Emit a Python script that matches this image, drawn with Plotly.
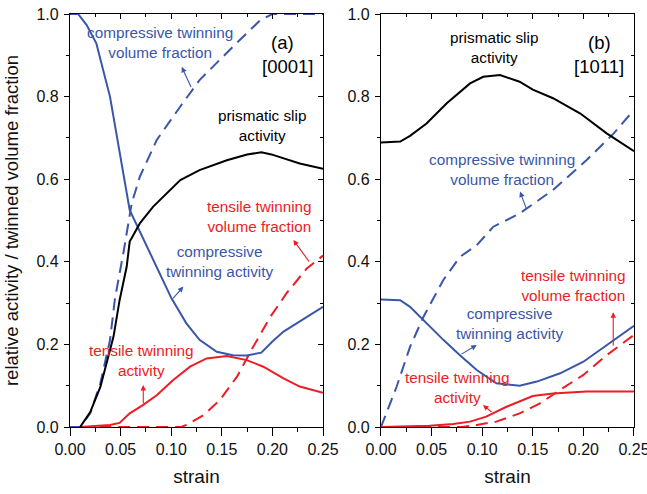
import plotly.graph_objects as go

# ---------------- data ----------------
# panel (a) [0001]
a_prism_x = [0.01, 0.02, 0.03, 0.036, 0.043, 0.049, 0.056, 0.059, 0.069, 0.082, 0.099, 0.109, 0.128, 0.155, 0.175, 0.189, 0.199, 0.211, 0.227, 0.25]
a_prism_y = [0.0, 0.036, 0.097, 0.155, 0.219, 0.307, 0.388, 0.449, 0.493, 0.533, 0.574, 0.598, 0.622, 0.646, 0.66, 0.665, 0.66, 0.65, 0.638, 0.625]

a_ctw_x = [0.0, 0.008, 0.0165, 0.026, 0.0395, 0.049, 0.059, 0.1004, 0.115, 0.128, 0.145, 0.161, 0.1746, 0.189, 0.2, 0.211, 0.227, 0.25]
a_ctw_y = [1.0, 1.0, 0.973, 0.929, 0.80, 0.671, 0.525, 0.311, 0.251, 0.211, 0.182, 0.174, 0.173, 0.18, 0.207, 0.231, 0.255, 0.291]

a_cvf_x = [0.0, 0.01, 0.02, 0.03, 0.0395, 0.0445, 0.053, 0.061, 0.069, 0.0857, 0.109, 0.128, 0.161, 0.188, 0.2, 0.25]
a_cvf_y = [0.0, 0.0, 0.033, 0.106, 0.21, 0.312, 0.425, 0.542, 0.606, 0.695, 0.776, 0.84, 0.921, 0.985, 1.0, 1.0]

a_ttw_x = [0.01, 0.0395, 0.049, 0.059, 0.072, 0.0857, 0.102, 0.1186, 0.135, 0.155, 0.1746, 0.191, 0.211, 0.227, 0.25]
a_ttw_y = [0.0, 0.005, 0.01, 0.033, 0.053, 0.077, 0.114, 0.146, 0.166, 0.172, 0.162, 0.146, 0.118, 0.098, 0.083]

a_tvf_x = [0.01, 0.11, 0.115, 0.132, 0.148, 0.165, 0.181, 0.198, 0.214, 0.234, 0.25]
a_tvf_y = [0.0, 0.0, 0.005, 0.029, 0.065, 0.122, 0.194, 0.267, 0.324, 0.384, 0.415]

# panel (b) [1011]
b_prism_x = [0.0, 0.019, 0.0287, 0.045, 0.065, 0.088, 0.101, 0.1176, 0.137, 0.15, 0.17, 0.197, 0.223, 0.25]
b_prism_y = [0.689, 0.691, 0.705, 0.735, 0.784, 0.832, 0.848, 0.852, 0.836, 0.817, 0.796, 0.759, 0.711, 0.668]

b_cvf_x = [0.0, 0.0155, 0.0287, 0.042, 0.0616, 0.078, 0.0946, 0.111, 0.137, 0.17, 0.203, 0.23, 0.25]
b_cvf_y = [0.0, 0.098, 0.194, 0.267, 0.356, 0.412, 0.44, 0.485, 0.517, 0.574, 0.646, 0.711, 0.768]

b_ctw_x = [0.0, 0.019, 0.0287, 0.045, 0.0616, 0.078, 0.0946, 0.114, 0.137, 0.154, 0.177, 0.2, 0.223, 0.25]
b_ctw_y = [0.309, 0.307, 0.291, 0.251, 0.211, 0.174, 0.138, 0.106, 0.1, 0.11, 0.13, 0.158, 0.199, 0.245]

b_ttw_x = [0.0, 0.048, 0.0714, 0.088, 0.104, 0.124, 0.15, 0.17, 0.203, 0.25]
b_ttw_y = [0.0, 0.003, 0.007, 0.013, 0.025, 0.049, 0.075, 0.081, 0.086, 0.086]

b_tvf_x = [0.0, 0.08, 0.0946, 0.114, 0.137, 0.157, 0.177, 0.2, 0.223, 0.25]
b_tvf_y = [0.0, 0.0, 0.005, 0.013, 0.033, 0.057, 0.09, 0.126, 0.174, 0.223]

x_tickvals = [0.0, 0.05, 0.10, 0.15, 0.20, 0.25]
x_ticktext = ["0.00", "0.05", "0.10", "0.15", "0.20", "0.25"]
y_tickvals = [0.0, 0.2, 0.4, 0.6, 0.8, 1.0]
y_ticktext = ["0.0", "0.2", "0.4", "0.6", "0.8", "1.0"]

# ---------------- style ----------------
BLUE = "#3A56A8"
RED = "#EE1C24"
BLACK = "#000000"
FONT = "Liberation Sans, Arial, sans-serif"
DASH = "12px,7px"
LW = 2

fig = go.Figure()

def line(x, y, color, dash, xa, ya):
    fig.add_trace(go.Scatter(x=x, y=y, mode="lines", xaxis=xa, yaxis=ya,
                             line=dict(color=color, width=LW, dash=dash),
                             showlegend=False, hoverinfo="skip"))

# panel a
line(a_cvf_x, a_cvf_y, BLUE, DASH, "x", "y")
line(a_tvf_x, a_tvf_y, RED, DASH, "x", "y")
line(a_ttw_x, a_ttw_y, RED, "solid", "x", "y")
line(a_ctw_x, a_ctw_y, BLUE, "solid", "x", "y")
line(a_prism_x, a_prism_y, BLACK, "solid", "x", "y")
# panel b
line(b_cvf_x, b_cvf_y, BLUE, DASH, "x2", "y2")
line(b_tvf_x, b_tvf_y, RED, DASH, "x2", "y2")
line(b_ttw_x, b_ttw_y, RED, "solid", "x2", "y2")
line(b_ctw_x, b_ctw_y, BLUE, "solid", "x2", "y2")
line(b_prism_x, b_prism_y, BLACK, "solid", "x2", "y2")

# dummy traces so mirror axes are drawn
for xa, ya in (("x3", "y3"), ("x4", "y4")):
    fig.add_trace(go.Scatter(x=[None], y=[None], xaxis=xa, yaxis=ya,
                             showlegend=False, hoverinfo="skip"))

D1 = [0.0, 0.4486]
D2 = [0.5514, 1.0]
XR = [0.0, 0.25]
YR = [0.0, 1.0]
TXT = "#111111"
TICKFONT = 16

def xprim(domain, anchor):
    return dict(domain=domain, anchor=anchor, range=XR, tickmode="array",
                tickvals=x_tickvals, ticktext=x_ticktext, ticks="outside",
                ticklen=8, tickwidth=1, tickcolor="black", showline=True,
                linecolor="black", linewidth=1.2, showgrid=False, zeroline=False,
                automargin=False, ticklabeloverflow="allow",
                tickfont=dict(family=FONT, size=TICKFONT, color=TXT),
                ticklabelstandoff=0,
                minor=dict(ticks="outside", ticklen=4, tickcolor="black",
                           tickvals=[0.025, 0.075, 0.125, 0.175, 0.225]),
                title=dict(text="strain", font=dict(family=FONT, size=19, color=TXT),
                           standoff=12))

def yprim(anchor, show_title):
    d = dict(domain=[0, 1], anchor=anchor, range=YR, tickmode="array",
             tickvals=y_tickvals, ticktext=y_ticktext, ticks="outside",
             ticklen=5, tickwidth=1, tickcolor="black", showline=True,
             linecolor="black", linewidth=1.2, showgrid=False, zeroline=False,
             automargin=False, ticklabeloverflow="allow",
             tickfont=dict(family=FONT, size=TICKFONT, color=TXT),
             ticklabelstandoff=2,
             minor=dict(ticks="outside", ticklen=3, tickcolor="black",
                        tickvals=[0.1, 0.3, 0.5, 0.7, 0.9]))
    if show_title:
        d["title"] = dict(text="relative activity / twinned volume fraction",
                          font=dict(family=FONT, size=18.5, color=TXT), standoff=12)
    return d

def xmirror(over, anchor):
    return dict(overlaying=over, anchor=anchor, side="top", range=XR,
                tickmode="array", tickvals=x_tickvals, ticks="inside", ticklen=5,
                tickcolor="black", showticklabels=False, showline=True,
                linecolor="black", linewidth=1.2, showgrid=False, zeroline=False,
                automargin=False,
                minor=dict(ticks="inside", ticklen=3, tickcolor="black",
                           tickvals=[0.025, 0.075, 0.125, 0.175, 0.225]))

def ymirror(over, anchor):
    return dict(overlaying=over, anchor=anchor, side="right", range=YR,
                tickmode="array", tickvals=y_tickvals, ticks="inside", ticklen=5,
                tickcolor="black", showticklabels=False, showline=True,
                linecolor="black", linewidth=1.2, showgrid=False, zeroline=False,
                automargin=False,
                minor=dict(ticks="inside", ticklen=3, tickcolor="black",
                           tickvals=[0.1, 0.3, 0.5, 0.7, 0.9]))

fig.update_layout(
    width=647, height=494,
    margin=dict(l=70, r=13, t=14, b=67, autoexpand=False),
    paper_bgcolor="white", plot_bgcolor="white",
    font=dict(family=FONT),
    xaxis=xprim(D1, "y"), yaxis=yprim("x", True),
    xaxis2=xprim(D2, "y2"), yaxis2=yprim("x2", False),
    xaxis3=xmirror("x", "y"), yaxis3=ymirror("y", "x"),
    xaxis4=xmirror("x2", "y2"), yaxis4=ymirror("y2", "x2"),
)

# ---------------- labels ----------------
def label(text, x, y, color, xref, yref, size=15.3):
    fig.add_annotation(text=text, x=x, y=y, xref=xref, yref=yref, showarrow=False,
                       font=dict(family=FONT, size=size, color=color),
                       xanchor="center", yanchor="middle", align="center")

def arrow(x, y, ax, ay, color, xref, yref):
    fig.add_annotation(text="", x=x, y=y, ax=ax, ay=ay, xref=xref, yref=yref,
                       showarrow=True, arrowhead=2, arrowsize=1, arrowwidth=1.1,
                       arrowcolor=color, standoff=0, startstandoff=0)

# panel (a)
label("compressive twinning<br>volume fraction", 0.0889, 0.932, BLUE, "x", "y")
label("(a)", 0.2104, 0.932, BLACK, "x", "y", 18.5)
label("[0001]", 0.2154, 0.874, BLACK, "x", "y", 18.5)
label("prismatic slip<br>activity", 0.190, 0.729, BLACK, "x", "y")
label("tensile twinning<br>volume fraction", 0.1868, 0.5097, RED, "x", "y")
label("compressive<br>twinning activity", 0.1482, 0.4007, BLUE, "x", "y")
label("tensile twinning<br>activity", 0.0711, 0.161, RED, "x", "y")
arrow(0.1104, 0.872, 10, 21.6, BLUE, "x", "y")
arrow(0.2207, 0.453, 16.7, 23, RED, "x", "y")
arrow(0.112, 0.340, -11.6, 13.3, BLUE, "x", "y")
arrow(0.0724, 0.1017, 0, 20, RED, "x", "y")

# panel (b)
label("prismatic slip<br>activity", 0.1117, 0.919, BLACK, "x2", "y2")
label("(b)", 0.2159, 0.932, BLACK, "x2", "y2", 18.5)
label("[1011]", 0.2154, 0.874, BLACK, "x2", "y2", 18.5)
label("compressive twinning<br>volume fraction", 0.1193, 0.6247, BLUE, "x2", "y2")
label("tensile twinning<br>volume fraction", 0.1907, 0.3438, RED, "x2", "y2")
label("compressive<br>twinning activity", 0.1265, 0.2506, BLUE, "x2", "y2")
label("tensile twinning<br>activity", 0.0756, 0.0956, RED, "x2", "y2")
arrow(0.1374, 0.570, 6.7, 18.3, BLUE, "x2", "y2")
arrow(0.2295, 0.278, 0, 34.7, RED, "x2", "y2")
arrow(0.0946, 0.1985, -16.7, 10, BLUE, "x2", "y2")
arrow(0.1008, 0.0533, 10, 8.3, RED, "x2", "y2")

# remove the default 8px page margin so the figure fills the window exactly
fig.write_html("out.html",
               config={"displayModeBar": False},
               post_script="document.body.style.margin='0px';document.body.style.overflow='hidden';")
